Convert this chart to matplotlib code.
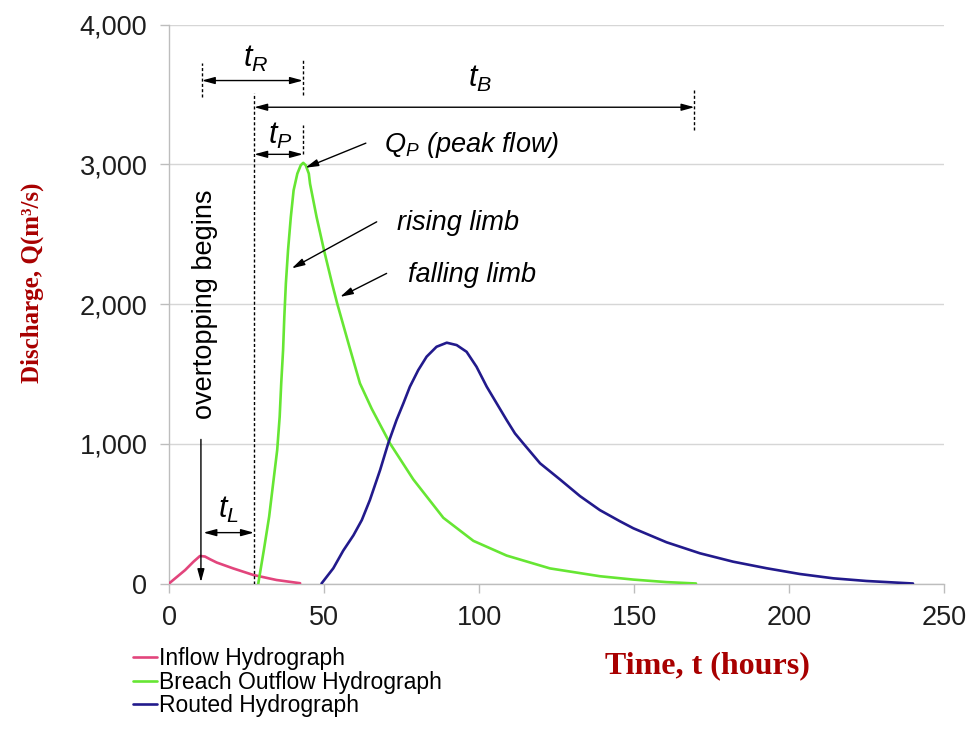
import matplotlib
matplotlib.use("Agg")
import matplotlib.pyplot as plt
from matplotlib.ticker import FuncFormatter

plt.rcParams['font.family'] = ['Liberation Sans', 'DejaVu Sans']
plt.rcParams['mathtext.fontset'] = 'custom'
plt.rcParams['mathtext.it'] = 'Liberation Sans:italic'
plt.rcParams['mathtext.rm'] = 'Liberation Sans'
plt.rcParams['mathtext.default'] = 'it'

# ---------------- data ----------------
inflow_t = [0, 5.2, 7.9, 10.0, 11.6, 13.2, 15.4, 20.7, 27.2, 34.7, 42.3]
inflow_q = [0, 96, 156, 197, 193, 174, 150, 108, 61, 25, 2]

breach_t = [28.8, 30.6, 32.3, 33.6, 34.9, 35.7, 36.2, 36.8, 37.2, 37.7, 38.4, 39.3,
            40.2, 41.4, 42.5, 43.3, 44.1, 45.1, 45.5, 47.6, 50.0, 52.6, 54.3, 58.2,
            61.6, 65.4, 71.3, 78.8, 88.5, 98.2, 108.9, 122.9, 139.0, 149.8, 160.5, 170.0]
breach_q = [0, 240, 478, 717, 955, 1193, 1432, 1670, 1908, 2147, 2385, 2623,
            2814, 2933, 2993, 3010, 2993, 2933, 2860, 2623, 2385, 2147, 2000, 1694,
            1432, 1250, 1002, 745, 470, 305, 200, 108, 52, 28, 10, 0]

routed_t = [49.2, 53.0, 56.2, 59.5, 62.2, 64.8, 68.1, 70.7, 73.4, 75.6, 77.7, 80.4,
            83.1, 86.3, 89.6, 92.8, 96.0, 99.2, 102.5, 105.7, 108.9, 111.6, 114.3,
            117.0, 119.7, 126.1, 132.6, 139.0, 145.5, 149.8, 160.5, 171.3, 182.0,
            192.8, 203.5, 214.3, 225.0, 240.0]
routed_q = [0, 109, 235, 345, 454, 597, 812, 1002, 1170, 1289, 1408, 1527,
            1623, 1694, 1723, 1706, 1658, 1551, 1408, 1289, 1170, 1074, 1002,
            931, 860, 745, 625, 525, 445, 395, 295, 216, 156,
            109, 68, 37, 18, 0]

series_labels = ["Inflow Hydrograph", "Breach Outflow Hydrograph", "Routed Hydrograph"]
series_colors = ["#e2457c", "#66e633", "#221a8c"]

x_ticks = [0, 50, 100, 150, 200, 250]
y_ticks = [0, 1000, 2000, 3000, 4000]

# ---------------- figure ----------------
W, H = 971, 736
fig = plt.figure(figsize=(W / 100, H / 100), dpi=100)
ax = fig.add_axes([169 / W, 1 - 583.5 / H, (944 - 169) / W, (583.5 - 24.5) / H])

lines = []
for t, q, c, lab in zip([inflow_t, breach_t, routed_t],
                        [inflow_q, breach_q, routed_q],
                        series_colors, series_labels):
    ln, = ax.plot(t, q, color=c, lw=1.9, label=lab, solid_capstyle='round',
                  solid_joinstyle='round', zorder=3)
    lines.append(ln)

ax.set_xlim(0, 250)
ax.set_ylim(0, 4000)
ax.set_xticks(x_ticks)
ax.set_yticks(y_ticks)
ax.yaxis.set_major_formatter(FuncFormatter(lambda v, p: f"{int(v):,}"))
ax.grid(axis='y', color='#d6d6d6', lw=1.0, zorder=0)
ax.set_axisbelow(True)
for s in ['top', 'right']:
    ax.spines[s].set_visible(False)
for s in ['left', 'bottom']:
    ax.spines[s].set_color('#bdbdbd')
    ax.spines[s].set_linewidth(1.0)
ax.tick_params(axis='both', colors='#bdbdbd', labelcolor='#1e1e1e', labelsize=19.5,
               direction='out', length=6.5, width=1.0)
ax.tick_params(axis='x', pad=9)
ax.tick_params(axis='y', pad=9)

# ---------------- annotations ----------------
dash = dict(color='black', lw=1.0, linestyle=(0, (2.2, 1.6)), zorder=4)
# vertical dashed guides: (t, q_from, q_to)
guides = [(27.5, 0, 3509), (10.6, 3484, 3727), (43.2, 3497, 3752),
          (43.2, 3071, 3280), (169.5, 3244, 3548)]
for gt, g0, g1 in guides:
    ax.plot([gt, gt], [g0, g1], **dash)

dbl = dict(arrowstyle='<|-|>,head_length=0.55,head_width=0.15', color='black',
           lw=1.0, shrinkA=0, shrinkB=0, mutation_scale=14)
sgl = dict(arrowstyle='-|>,head_length=0.55,head_width=0.15', color='black',
           lw=1.0, shrinkA=0, shrinkB=0, mutation_scale=14)

# double arrows: (t0, t1, q)
spans = [(10.6, 43.2, 3599), (27.5, 169.5, 3408), (27.5, 43.2, 3071), (11.1, 27.4, 364)]
for a, b, q in spans:
    ax.annotate("", xy=(b, q), xytext=(a, q), arrowprops=dbl, zorder=5)

span_labels = [("$t_R$", 27.8, 3752), ("$t_B$", 100.3, 3611),
               ("$t_P$", 35.8, 3200), ("$t_L$", 19.1, 526)]
for s, x, y in span_labels:
    ax.text(x, y, s, fontsize=22, ha='center', va='center')

# pointer arrows: (text, text_x, text_y, tail_x, tail_y, head_x, head_y)
pointers = [("$Q_P$ (peak flow)", 69.4, 3139, 63.5, 3151, 44.0, 2975),
            ("rising limb", 73.4, 2577, 67.0, 2588, 39.6, 2255),
            ("falling limb", 77.1, 2207, 70.2, 2219, 55.2, 2051)]
for s, tx, ty, ax0, ay0, hx, hy in pointers:
    ax.text(tx, ty, s, fontsize=19.5, style='italic', ha='left', va='center')
    ax.annotate("", xy=(hx, hy), xytext=(ax0, ay0), arrowprops=sgl, zorder=5)

ax.text(11.6, 2000, "overtopping begins", rotation=90, fontsize=19.5,
        ha='center', va='center')
ax.annotate("", xy=(10.3, 10), xytext=(10.3, 1031), arrowprops=sgl, zorder=5)

# ---------------- axis titles ----------------
axis_red = '#a80000'
fig.text(32 / W, 1 - 283 / H, "Discharge, Q(m³/s)", rotation=90, color=axis_red,
         fontsize=18, fontweight='bold', family=['Liberation Serif', 'DejaVu Serif'],
         ha='center', va='center')
fig.text(707 / W, 1 - 666 / H, "Time, t (hours)", color=axis_red,
         fontsize=23, fontweight='bold', family=['Liberation Serif', 'DejaVu Serif'],
         ha='center', va='center')

# ---------------- legend ----------------
fig.legend(handles=lines, labels=series_labels, loc='upper left',
           bbox_to_anchor=(133 / W, 1 - 647 / H), frameon=False, fontsize=16.5,
           borderpad=0, borderaxespad=0, handlelength=1.05, handletextpad=0.1,
           labelspacing=0.03)

fig.savefig("out.png", dpi=100)
